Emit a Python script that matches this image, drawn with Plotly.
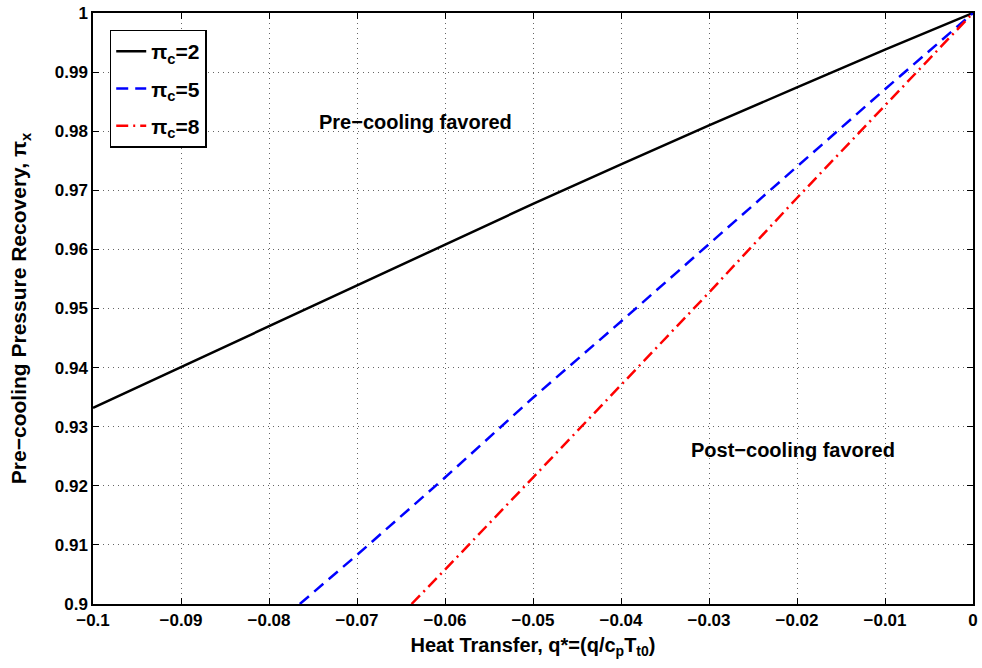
import plotly.graph_objects as go

# Data
x_pc2 = [-0.1, -0.09, -0.08, -0.07, -0.06, -0.05, -0.04, -0.03, -0.02, -0.01, 0.0]
y_pc2 = [0.9332, 0.9401, 0.9470, 0.9539, 0.9608, 0.9677, 0.9744, 0.9810, 0.9874, 0.9938, 1.0]

x_pc5 = [-0.0765, -0.07, -0.06, -0.05, -0.04, -0.03, -0.02, -0.01, 0.0]
y_pc5 = [0.9, 0.9083, 0.9214, 0.9349, 0.9478, 0.9609, 0.9740, 0.9871, 1.0]

x_pc8 = [-0.0638, -0.06, -0.05, -0.04, -0.03, -0.02, -0.01, 0.0]
y_pc8 = [0.9, 0.9058, 0.9214, 0.9370, 0.9527, 0.9687, 0.9843, 1.0]

names = ["<b>π<sub>c</sub>=2</b>", "<b>π<sub>c</sub>=5</b>", "<b>π<sub>c</sub>=8</b>"]

font_family = "Liberation Sans, Arial, sans-serif"

fig = go.Figure()
fig.add_trace(go.Scatter(x=x_pc2, y=y_pc2, mode="lines", name=names[0], legendgroup="a",
                         line=dict(color="black", width=2.5, dash="solid")))
fig.add_trace(go.Scatter(x=x_pc5, y=y_pc5, mode="lines", name=names[1], legendgroup="b",
                         line=dict(color="#0000ff", width=2.5, dash="12px,7px")))
fig.add_trace(go.Scatter(x=x_pc8, y=y_pc8, mode="lines", name=names[2], legendgroup="c",
                         line=dict(color="#ff0000", width=2.5, dash="12px,5px,2px,5px")))

fig.add_annotation(x=-0.0634, y=0.9816, text="<b>Pre−cooling favored</b>", showarrow=False,
                   font=dict(size=20, family=font_family, color="black"))
fig.add_annotation(x=-0.0205, y=0.926, text="<b>Post−cooling favored</b>", showarrow=False,
                   font=dict(size=20, family=font_family, color="black"))

axis_common = dict(
    showgrid=True, gridcolor="#666666", griddash="1px,4px", gridwidth=1,
    showline=True, linecolor="black", linewidth=1.5, mirror="ticks",
    ticks="inside", ticklen=6, tickcolor="black", zeroline=False,
    tickfont=dict(size=17, family=font_family, color="black", weight="bold"),
)

fig.update_xaxes(range=[-0.1, 0], dtick=0.01, tick0=0,
                 title=dict(text="<b>Heat Transfer, q*=(q/c<sub>p</sub>T<sub>t0</sub>)</b>",
                            font=dict(size=20, family=font_family, color="black"), standoff=9),
                 **axis_common)
fig.update_yaxes(range=[0.9, 1.0], dtick=0.01, tick0=0.9,
                 title=dict(text="<b>Pre−cooling Pressure Recovery, π<sub>x</sub></b>",
                            font=dict(size=21, family=font_family, color="black"), standoff=22),
                 **axis_common)

fig.update_layout(
    width=982, height=668,
    margin=dict(l=93, r=4, t=13, b=64),
    paper_bgcolor="white", plot_bgcolor="white",
    showlegend=True,
    legend=dict(x=0.019, y=0.972, xanchor="left", yanchor="top",
                bgcolor="white", bordercolor="black", borderwidth=1.5,
                font=dict(size=21, family=font_family, color="black"),
                tracegroupgap=7),
)

fig.write_html("out.html")
